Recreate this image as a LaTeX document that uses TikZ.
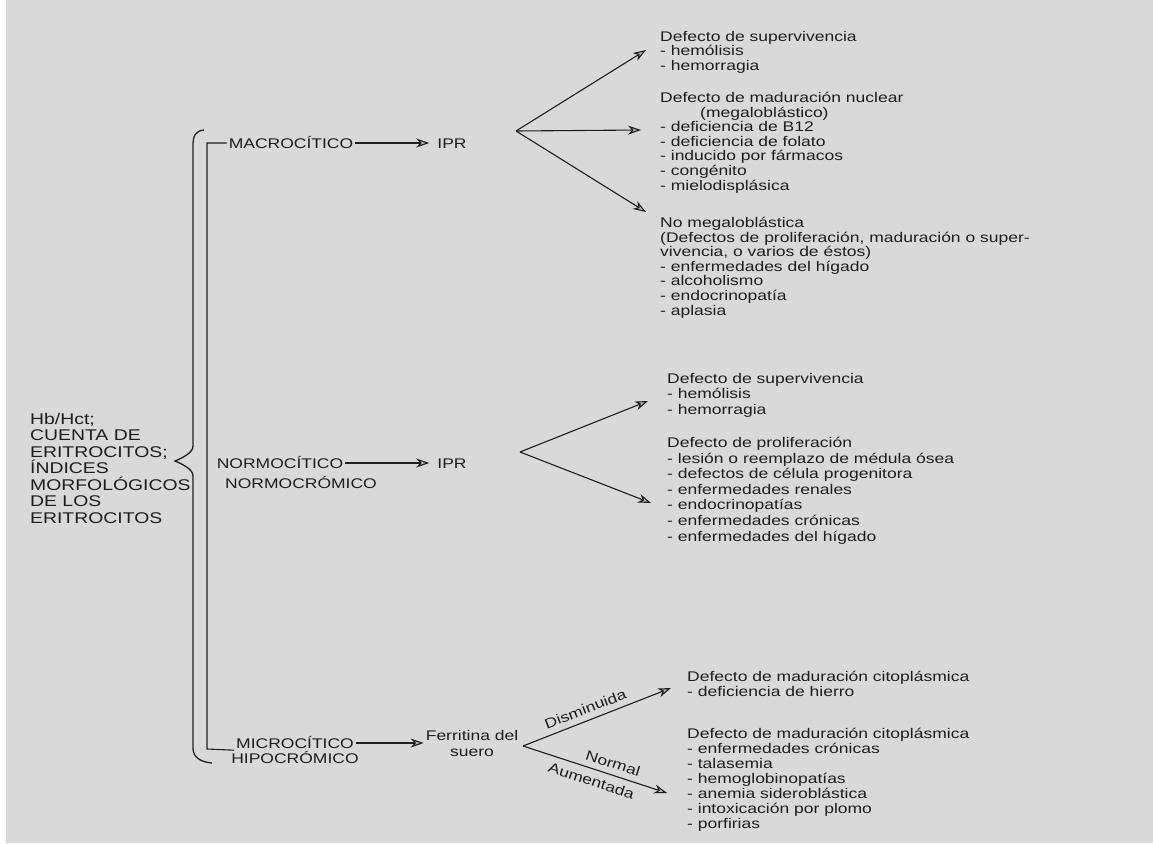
\documentclass[tikz,border=0pt]{standalone}
\usepackage{fontspec}
\setmainfont{Liberation Sans}[FakeStretch=1.25]
\usetikzlibrary{arrows.meta, positioning}
\definecolor{paper}{RGB}{217,217,217}
\definecolor{ink}{RGB}{30,30,30}

\begin{document}
\begin{tikzpicture}[x=1pt, y=-1pt,
  caps/.style={text=ink, font=\fontsize{14}{16}\selectfont, inner sep=2pt, text height=10pt, text depth=0pt},
  txt/.style={text=ink, font=\fontsize{14}{14.6}\selectfont, align=left, anchor=north west, inner sep=0pt},
  arr/.style={-{Stealth[length=13pt,width=9pt,inset=4pt,fill=gray!55]}, line width=1.1pt, draw=ink},
  lbl/.style={text=ink, font=\fontsize{14}{14}\selectfont, sloped, inner sep=6pt},
  brc/.style={draw=ink, line width=1.3pt}]
  \useasboundingbox (0,0) rectangle (1153,843);
  \fill[paper] (6,0) rectangle (1153,843);

  \node[txt, font=\fontsize{15.5}{16.5}\selectfont] (hb) at (30,413)
  {Hb/Hct;\\CUENTA DE\\ERITROCITOS;\\ÍNDICES\\MORFOLÓGICOS\\DE LOS\\ERITROCITOS};

  \node[caps] (macro) at (291,143) {MACROCÍTICO};
  \node[caps] (iprA) at (452,143) {IPR};
  \node[caps] (normo) at (280,463) {NORMOCÍTICO};
  \node[caps] (normocro) at (301,483) {NORMOCRÓMICO};
  \node[caps] (iprB) at (452,463) {IPR};
  \node[caps] (micro) at (295,743) {MICROCÍTICO};
  \node[caps, below=1pt of micro] (hipo) {HIPOCRÓMICO};
  \node[text=ink, font=\fontsize{14}{16.5}\selectfont, align=center, anchor=north, inner sep=2pt]
  (ferr) at (472,728) {Ferritina del\\suero};

  \node[txt] (survA) at (660,31) {Defecto de supervivencia\\- hemólisis\\- hemorragia};
  \node[txt] (nucl) at (660,92) {Defecto de maduración nuclear\\\hspace*{40pt}(megaloblástico)\\
    - deficiencia de B12\\- deficiencia de folato\\- inducido por fármacos\\- congénito\\
    - mielodisplásica};
  \node[txt] (nomeg) at (660,217) {No megaloblástica\\(Defectos de proliferación, maduración o super-\\
    vivencia, o varios de éstos)\\- enfermedades del hígado\\- alcoholismo\\- endocrinopatía\\- aplasia};

  \node[txt, font=\fontsize{14}{15.6}\selectfont] (survB) at (667,373)
  {Defecto de supervivencia\\- hemólisis\\- hemorragia};
  \node[txt, font=\fontsize{14}{15.6}\selectfont] (prolif) at (667,437)
  {Defecto de proliferación\\- lesión o reemplazo de médula ósea\\- defectos de célula progenitora\\
    - enfermedades renales\\- endocrinopatías\\- enfermedades crónicas\\- enfermedades del hígado};

  \node[txt, font=\fontsize{14}{15}\selectfont] (citoA) at (687,671)
  {Defecto de maduración citoplásmica\\- deficiencia de hierro};
  \node[txt, font=\fontsize{14}{15}\selectfont] (citoB) at (687,728)
  {Defecto de maduración citoplásmica\\- enfermedades crónicas\\- talasemia\\- hemoglobinopatías\\
    - anemia sideroblástica\\- intoxicación por plomo\\- porfirias};

  \coordinate (forkA) at (516,131);
  \coordinate (tipA1) at (646,50);
  \coordinate (tipA2) at (641,130);
  \coordinate (tipA3) at (646,212);
  \coordinate (forkB) at (520,452);
  \coordinate (tipB1) at (648,401);
  \coordinate (tipB2) at (651,503);
  \coordinate (forkC) at (523,746);
  \coordinate (tipC1) at (671,688);
  \coordinate (tipC2) at (667,793);
  \coordinate (brk) at (207,749);

  \draw[brc] (204,130) .. controls (195,131) and (193,136) .. (193,146) -- (193,446)
    .. controls (193,453) and (182,458) .. (175,461)
    .. controls (182,464) and (193,469) .. (193,476) -- (193,748)
    .. controls (193,757) and (200,762) .. (212,763);
  \draw[draw=ink, line width=1.1pt] (macro.west) -| (brk) -- (micro.south west);

  \draw[arr, shorten >=6pt] (macro) -- (iprA);
  \draw[arr, shorten >=6pt] (normo) -- (iprB);
  \draw[arr] (micro.east) -- (micro.east -| ferr.west);

  \draw[arr] (forkA) -- (tipA1);
  \draw[arr] (forkA) -- (tipA2);
  \draw[arr] (forkA) -- (tipA3);
  \draw[arr] (forkB) -- (tipB1);
  \draw[arr] (forkB) -- (tipB2);
  \draw[arr] (forkC) -- (tipC1) node[lbl, pos=0.45, above] {Disminuida};
  \draw[arr] (forkC) -- (tipC2) node[lbl, pos=0.6, above] {Normal}
    node[lbl, pos=0.5, below] {Aumentada};
\end{tikzpicture}
\end{document}
